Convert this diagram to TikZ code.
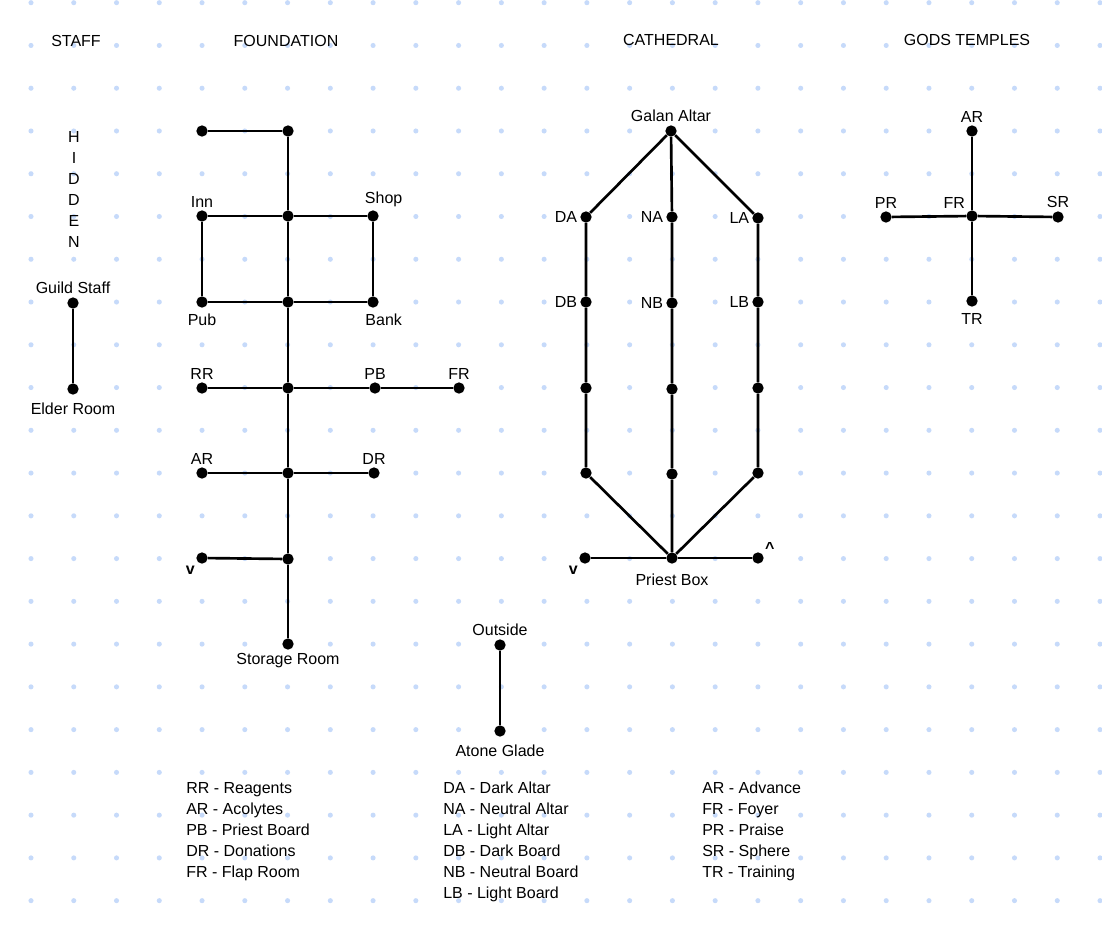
\documentclass[tikz,border=0pt]{standalone}
\usepackage{fontspec}
\setmainfont{Liberation Sans}
\usetikzlibrary{positioning}
\definecolor{gridblue}{RGB}{198,218,250}

\begin{document}
\begin{tikzpicture}[x=0.75pt, y=-0.75pt,
    font=\fontsize{12}{15.75}\selectfont,
    room/.style={circle, fill=black, inner sep=0pt, minimum size=8.5pt},
    link/.style={line width=2pt},
    every label/.append style={inner sep=2pt},
    legend/.style={anchor=north west, align=left, inner sep=0pt}]
    \useasboundingbox (0,0) rectangle (1102,928);
    \fill[white] (0,0) rectangle (1102,928);
    \foreach \i in {0,...,25}
        \foreach \j in {0,...,21}
            \fill[gridblue] ({31+42.76*\i},{2.7+42.76*\j}) circle (1.9pt);

    \node (staff) at (76,41) {STAFF};
    \node (foundation) at (286,41) {FOUNDATION};
    \node (cathedral) at (671,40) {CATHEDRAL};
    \node (gods) at (967,40) {GODS TEMPLES};

    \node[align=center, inner sep=0pt] (hidden) at (74,189) {H\\I\\D\\D\\E\\N};
    \node[room, label=above:Guild Staff] (guild) at (73,303) {};
    \node[room, label={[yshift=-4pt]below:Elder Room}] (elder) at (73,389) {};
    \draw[link] (guild) -- (elder);

    \node[room] (ftl) at (202,131) {};
    \node[room] (ftop) at (288,131) {};
    \node[room, label=above:Inn] (inn) at (202,216) {};
    \node[room] (fc1) at (288,216) {};
    \node[room, label={[xshift=8pt]above:Shop}] (shop) at (373,216) {};
    \node[room, label={[yshift=-2.5pt]below:Pub}] (pub) at (202,302) {};
    \node[room] (fc2) at (288,302) {};
    \node[room, label={[xshift=8pt,yshift=-2.5pt]below:Bank}] (bank) at (373,302) {};
    \node[room, label=above:RR] (rr) at (202,388) {};
    \node[room] (fc3) at (288,388) {};
    \node[room, label=above:PB] (pb) at (375,388) {};
    \node[room, label=above:FR] (fr) at (459,388) {};
    \node[room, label=above:AR] (ar) at (202,473) {};
    \node[room] (fc4) at (288,473) {};
    \node[room, label=above:DR] (dr) at (374,473) {};
    \node[room, label={[xshift=0pt,yshift=-1pt]below left:\textbf{v}}] (fdown) at (202,558) {};
    \node[room] (fc5) at (288,559) {};
    \node[room, label=below:Storage Room] (storage) at (288,644) {};

    \draw[link] (ftl) -- (ftop) -- (fc1) -- (fc2) -- (fc3) -- (fc4) -- (fc5) -- (storage);
    \draw[link] (inn) -- (fc1) -- (shop) -- (bank) -- (fc2) -- (pub) -- (inn);
    \draw[link] (rr) -- (fc3) -- (pb) -- (fr);
    \draw[link] (ar) -- (fc4) -- (dr);
    \draw[link] (fdown) -- (fc5);

    \node[room, label=above:Galan Altar] (galan) at (671,131) {};
    \node[room, label=left:DA] (da) at (586,217) {};
    \node[room, label=left:NA] (na) at (672,217) {};
    \node[room, label=left:LA] (la) at (758,218) {};
    \node[room, label=left:DB] (db) at (586,302) {};
    \node[room, label=left:NB] (nb) at (672,303) {};
    \node[room, label=left:LB] (lb) at (758,302) {};
    \node[room] (d3) at (586,388) {};
    \node[room] (n3) at (672,389) {};
    \node[room] (l3) at (758,388) {};
    \node[room] (d4) at (586,473) {};
    \node[room] (n4) at (672,474) {};
    \node[room] (l4) at (758,473) {};
    \node[room, label={[yshift=-5pt]below:Priest Box}] (priest) at (672,558) {};
    \node[room, label={[xshift=0pt,yshift=-1pt]below left:\textbf{v}}] (cdown) at (585,558) {};
    \node[room, label={[yshift=-2pt]above right:\textbf{\textasciicircum}}] (cup) at (758,558) {};

    \draw[link] (galan) -- (da) -- (db) -- (d3) -- (d4) -- (priest);
    \draw[link] (galan) -- (na) -- (nb) -- (n3) -- (n4) -- (priest);
    \draw[link] (galan) -- (la) -- (lb) -- (l3) -- (l4) -- (priest);
    \draw[link] (cdown) -- (priest) -- (cup);

    \node[room, label=above:Outside] (outside) at (500,645) {};
    \node[room, label={[yshift=-3.5pt]below:Atone Glade}] (atone) at (500,731) {};
    \draw[link] (outside) -- (atone);

    \node[room, label=above:AR] (gar) at (972,131) {};
    \node[room, label=above left:FR] (gfr) at (972,216) {};
    \node[room, label=above:PR] (gpr) at (886,217) {};
    \node[room, label=above:SR] (gsr) at (1058,217) {};
    \node[room, label={[yshift=-2.5pt]below:TR}] (gtr) at (972,301) {};
    \draw[link] (gar) -- (gfr) -- (gtr);
    \draw[link] (gpr) -- (gfr) -- (gsr);

    \node[legend] (keyfoundation) at (186,782) {RR - Reagents\\AR - Acolytes\\PB - Priest Board\\DR - Donations\\FR - Flap Room};
    \node[legend] (keycathedral) at (443,782) {DA - Dark Altar\\NA - Neutral Altar\\LA - Light Altar\\DB - Dark Board\\NB - Neutral Board\\LB - Light Board};
    \node[legend] (keygods) at (702,782) {AR - Advance\\FR - Foyer\\PR - Praise\\SR - Sphere\\TR - Training};
\end{tikzpicture}
\end{document}
